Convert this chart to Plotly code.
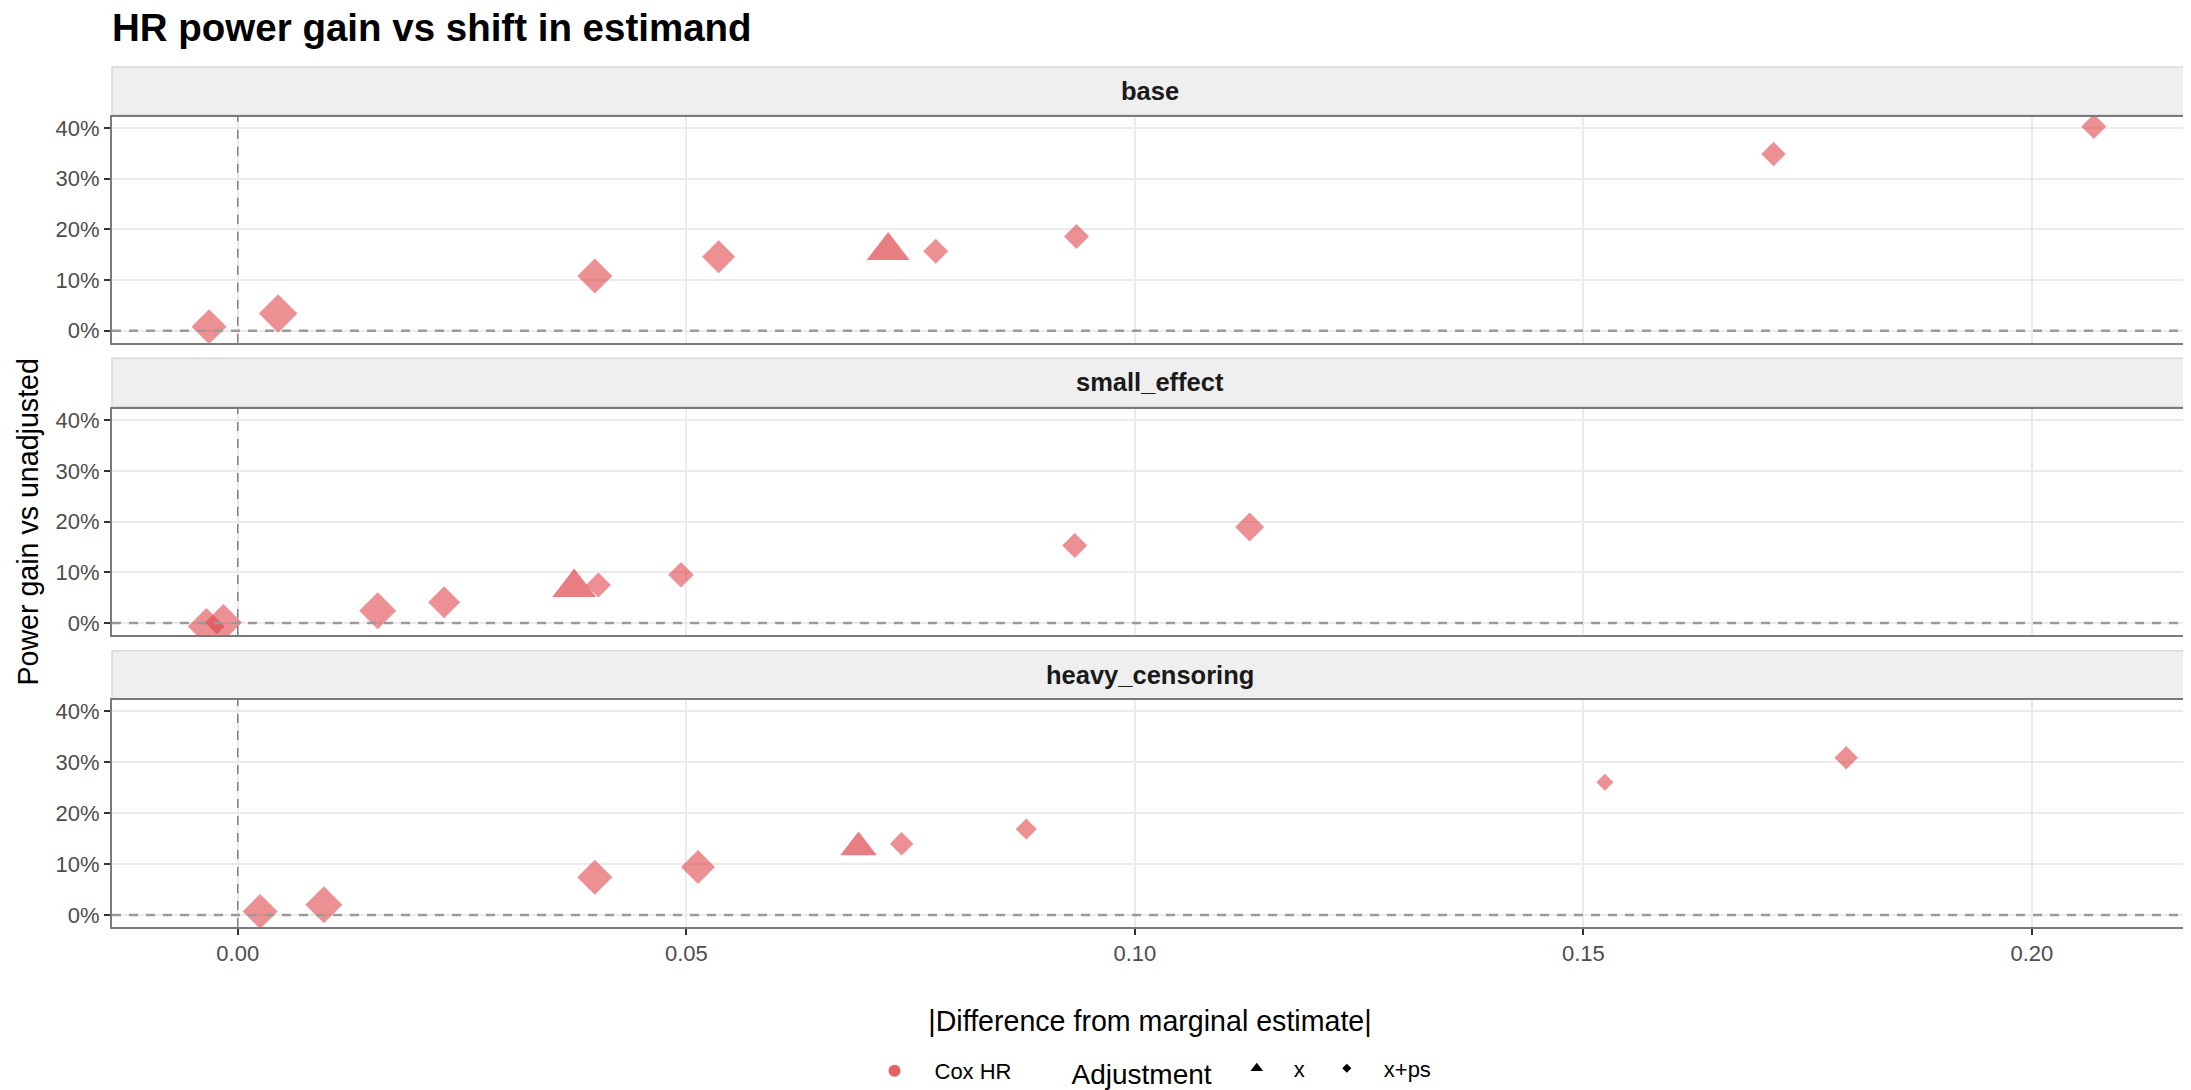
import plotly.graph_objects as go

# ---------------- data ----------------
scenarios = ["base", "small_effect", "heavy_censoring"]

base_x = [-0.0032, 0.0045, 0.0398, 0.0536, 0.0725, 0.0778, 0.0935, 0.1712, 0.2069]
base_y = [0.008, 0.034, 0.108, 0.146, 0.158, 0.157, 0.186, 0.349, 0.403]
base_adj = ["x+ps", "x+ps", "x+ps", "x+ps", "x", "x+ps", "x+ps", "x+ps", "x+ps"]
base_size = [35, 38.5, 35, 33, 28.6, 25, 25, 24.5, 25]

small_x = [-0.0035, -0.0016, 0.0156, 0.0230, 0.0375, 0.0402, 0.0494, 0.0933, 0.1128]
small_y = [-0.007, 0.001, 0.024, 0.041, 0.070, 0.075, 0.095, 0.153, 0.189]
small_adj = ["x+ps", "x+ps", "x+ps", "x+ps", "x", "x+ps", "x+ps", "x+ps", "x+ps"]
small_size = [37, 37, 37, 32, 29.2, 25, 25.5, 25, 29]

heavy_x = [0.0025, 0.0096, 0.0398, 0.0513, 0.0692, 0.0740, 0.0879, 0.1524, 0.1793]
heavy_y = [0.007, 0.020, 0.074, 0.094, 0.133, 0.140, 0.169, 0.261, 0.309]
heavy_adj = ["x+ps", "x+ps", "x+ps", "x+ps", "x", "x+ps", "x+ps", "x+ps", "x+ps"]
heavy_size = [35, 37, 35, 34, 24.4, 23.5, 21, 17, 23.5]

x_tick_vals = [0, 0.05, 0.10, 0.15, 0.20]
x_tick_text = ["0.00", "0.05", "0.10", "0.15", "0.20"]
y_tick_vals = [0, 0.1, 0.2, 0.3, 0.4]

method_label = "Cox HR"
adjust_levels = ["x", "x+ps"]

# ---------------- styling ----------------
OFF = 8                      # page body margin of the html page
W, H = 2191 - OFF, 1090 - OFF
ML, MR, MT, MB = 104, 3, 59, 163
FONT = "Liberation Sans, Arial, sans-serif"
COLOR = {"x": "rgba(222,62,68,0.95)", "x+ps": "rgba(222,62,68,0.82)"}
LEG_RED = "rgba(222,62,68,0.82)"
SYMBOL = {"x": "triangle-up", "x+ps": "diamond"}
SIZE_SCALE = {"x": 1.3, "x+ps": 1 / 1.3}

plot_h = H - MT - MB


def pfrac(px_page):
    return (H - MB - (px_page - OFF)) / plot_h


# panel data rows and strip rows (page pixels)
panel_px = [(116.7, 342.7), (408.7, 635.0), (700.0, 927.0)]
strip_px = [(67.0, 115.0), (358.3, 406.7), (650.7, 699.3)]

series = [
    (base_x, base_y, base_adj, base_size),
    (small_x, small_y, small_adj, small_size),
    (heavy_x, heavy_y, heavy_adj, heavy_size),
]

fig = go.Figure()

XR = [-0.01402, 0.2174]
YR = [-0.0237, 0.4225]

for i, (xs, ys, adj, sz) in enumerate(series):
    sfx = "" if i == 0 else str(i + 1)
    for lev in adjust_levels:
        idx = [k for k, a in enumerate(adj) if a == lev]
        fig.add_trace(go.Scatter(
            x=[xs[k] for k in idx], y=[ys[k] for k in idx],
            mode="markers", showlegend=False,
            marker=dict(symbol=SYMBOL[lev], color=COLOR[lev],
                        size=[sz[k] * SIZE_SCALE[lev] for k in idx],
                        line=dict(width=0)),
            xaxis="x" + sfx, yaxis="y" + sfx, name=lev,
        ))
    bottom = (i == 2)
    top_px, bot_px = panel_px[i]
    fig.layout["xaxis" + sfx] = dict(
        domain=[0, 1], anchor="y" + sfx, range=XR,
        tickvals=x_tick_vals, ticktext=x_tick_text,
        showticklabels=bottom, ticks="outside" if bottom else "",
        ticklen=6, tickwidth=2, tickcolor="#333333",
        showgrid=True, gridcolor="#EBEBEB", gridwidth=2, zeroline=False,
        showline=True, mirror=True, linecolor="#7A7A7A", linewidth=2,
        tickfont=dict(family=FONT, size=22, color="#4D4D4D"),
    )
    fig.layout["yaxis" + sfx] = dict(
        domain=[pfrac(bot_px), pfrac(top_px)], anchor="x" + sfx, range=YR,
        tickvals=y_tick_vals, tickformat=".0%",
        ticks="outside", ticklen=6, tickwidth=2, tickcolor="#333333",
        showgrid=True, gridcolor="#EBEBEB", gridwidth=2, zeroline=False,
        showline=True, mirror=True, linecolor="#7A7A7A", linewidth=2,
        tickfont=dict(family=FONT, size=22, color="#4D4D4D"),
    )
    # reference lines
    fig.add_shape(type="line", xref="x" + sfx + " domain", yref="y" + sfx,
                  x0=0, x1=1, y0=0, y1=0, layer="above",
                  line=dict(color="#9A9A9A", width=2.5, dash="9px,8px"))
    fig.add_shape(type="line", xref="x" + sfx, yref="y" + sfx + " domain",
                  x0=0, x1=0, y0=0, y1=1, layer="above",
                  line=dict(color="#808080", width=1.5, dash="9px,8px"))
    # strip
    s_top, s_bot = strip_px[i]
    fig.add_shape(type="rect", xref="paper", yref="paper",
                  x0=0, x1=1, y0=pfrac(s_bot), y1=pfrac(s_top),
                  fillcolor="#EFEFEF", line=dict(color="#D9D9D9", width=1.5),
                  layer="below")
    fig.add_annotation(xref="paper", yref="paper", x=0.5,
                       y=(pfrac(s_bot) + pfrac(s_top)) / 2,
                       text="<b>" + scenarios[i] + "</b>", showarrow=False,
                       xanchor="center", yanchor="middle",
                       font=dict(family=FONT, size=25.5, color="#1A1A1A"))

fig.layout.yaxis2.title = dict(text="Power gain vs unadjusted", standoff=9,
                               font=dict(family=FONT, size=28.6, color="black"))
fig.layout.xaxis3.title = dict(text="|Difference from marginal estimate|", standoff=46,
                               font=dict(family=FONT, size=28.6, color="black"))

# legend-only traces
fig.add_trace(go.Scatter(x=[None], y=[None], mode="markers", name=method_label,
                         marker=dict(symbol="circle", size=12, color=LEG_RED),
                         legend="legend", showlegend=True))
for lev, ls in zip(adjust_levels, [11, 7]):
    fig.add_trace(go.Scatter(x=[None], y=[None], mode="markers", name=lev,
                             marker=dict(symbol=SYMBOL[lev], size=ls, color="black"),
                             legend="legend2", showlegend=True))

leg_y = 1 - (1071 - OFF) / H
fig.update_layout(
    width=W, height=H,
    margin=dict(l=ML, r=MR, t=MT, b=MB, autoexpand=False),
    paper_bgcolor="white", plot_bgcolor="white",
    font=dict(family=FONT, color="black"),
    title=dict(text="<b>HR power gain vs shift in estimand</b>",
               x=104 / W, xref="container", xanchor="left",
               y=1 - 6.5 / H, yref="container", yanchor="top",
               font=dict(family=FONT, size=38.5, color="black")),
    legend=dict(orientation="h", x=846.5 / W, xref="container", xanchor="left",
                y=leg_y, yref="container", yanchor="middle",
                bgcolor="rgba(0,0,0,0)", itemwidth=70,
                font=dict(family=FONT, size=22, color="black")),
    legend2=dict(orientation="h", x=1061.5 / W, xref="container", xanchor="left",
                 y=leg_y, yref="container", yanchor="middle",
                 bgcolor="rgba(0,0,0,0)", itemwidth=64,
                 title=dict(text="Adjustment", side="left",
                            font=dict(family=FONT, size=28, color="black")),
                 font=dict(family=FONT, size=22, color="black")),
)

fig.write_html("out.html")
